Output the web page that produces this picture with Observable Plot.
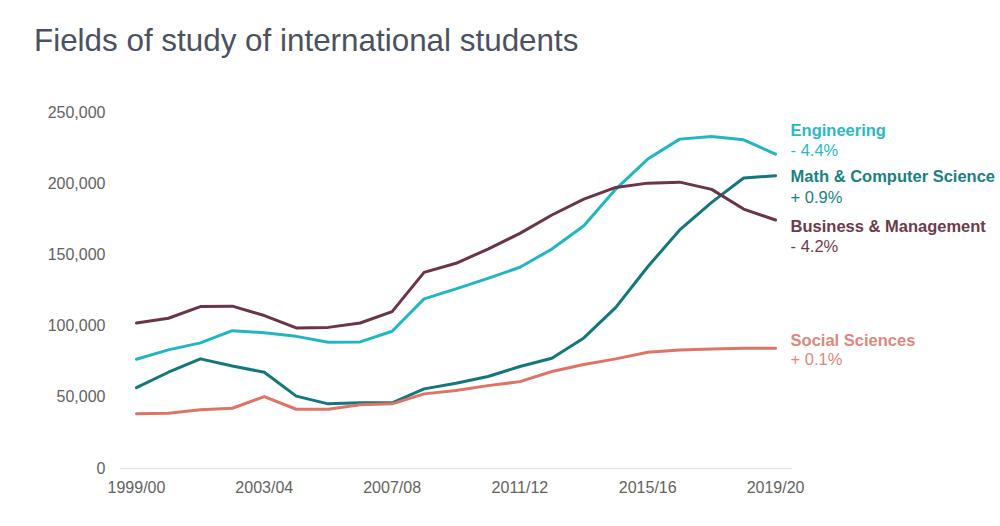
<!DOCTYPE html>
<html>
<head>
<meta charset="utf-8">
<script src="https://cdn.jsdelivr.net/npm/d3@7"></script>
<script src="https://cdn.jsdelivr.net/npm/@observablehq/plot@0.6"></script>
<style>
  html, body { margin: 0; padding: 0; background: #ffffff; }
  #title {
    height: 70px; box-sizing: border-box; padding: 25px 0 0 34px; margin: 0;
    font-family: "Liberation Sans", Arial, sans-serif; font-size: 31.4px; line-height: 31px;
    font-weight: normal; color: #4a5260;
  }
  #chart svg { display: block; }
</style>
</head>
<body>
<div id="title">Fields of study of international students</div>
<div id="chart"></div>
<script>
// ---- data ----
const years = [1999, 2000, 2001, 2002, 2003, 2004, 2005, 2006, 2007, 2008, 2009,
               2010, 2011, 2012, 2013, 2014, 2015, 2016, 2017, 2018, 2019];
const engineering = [76700, 83300, 88200, 96800, 95400, 92800, 88600, 88900, 96400, 119100, 126100,
                     133500, 141300, 154100, 170500, 196200, 217300, 231300, 233200, 230800, 220800];
const mathCS = [56800, 67600, 77000, 72000, 67600, 50800, 45400, 46100, 46100, 55900, 59900,
                64600, 71600, 77400, 91700, 113200, 141700, 167500, 186900, 204000, 205600];
const business = [102200, 105500, 113700, 114000, 107400, 98700, 99100, 102200, 110200, 137700, 144100,
                  154100, 165100, 178000, 189200, 197400, 200400, 201100, 196000, 182200, 174500];
const socialSci = [38400, 38800, 41200, 42300, 50500, 41600, 41600, 44700, 45400, 52400, 54700,
                   58200, 61000, 68100, 73000, 77000, 81600, 83300, 84000, 84400, 84400];
const seriesNames = ["Engineering", "Math & Computer Science", "Business & Management", "Social Sciences"];
const seriesValues = [engineering, mathCS, business, socialSci];
const changes = ["- 4.4%", "+ 0.9%", "- 4.2%", "+ 0.1%"];
const yTicks = [0, 50000, 100000, 150000, 200000, 250000];
const xTickYears = [1999, 2003, 2007, 2011, 2015, 2019];
const xTickLabels = ["1999/00", "2003/04", "2007/08", "2011/12", "2015/16", "2019/20"];

// ---- styles ----
const lineColors = ["#22b5c4", "#13777b", "#6a3547", "#df7466"];
const labelColors = ["#2bb8c3", "#1a8182", "#6e3a4c", "#e0877d"];
const nameDy = [-23.5, 1, 7, -7.5];
const pctDy = [-3.8, 22, 27, 11.5];

const rows = seriesNames.flatMap((s, k) =>
  years.map((yr, i) => ({series: s, year: yr, value: seriesValues[k][i]})));

const labelMarks = seriesNames.flatMap((s, k) => {
  const last = [{series: s, year: years[years.length - 1], value: seriesValues[k][years.length - 1], pct: changes[k]}];
  return [
    Plot.text(last, {x: "year", y: "value", text: "series", fill: labelColors[k], fontWeight: "bold",
      fontSize: 16.5, textAnchor: "start", dx: 15, dy: nameDy[k]}),
    Plot.text(last, {x: "year", y: "value", text: "pct", fill: labelColors[k],
      fontSize: 16.5, textAnchor: "start", dx: 15, dy: pctDy[k]})
  ];
});

const chart = Plot.plot({
  width: 1000,
  height: 456,
  marginLeft: 120,
  marginRight: 208,
  marginTop: 42,
  marginBottom: 58,
  style: {fontFamily: "'Liberation Sans', Arial, sans-serif", fontSize: "16px", color: "#626262", background: "#ffffff"},
  x: {domain: [1998.5, 2019.53], ticks: xTickYears, tickFormat: d => xTickLabels[xTickYears.indexOf(d)],
      tickSize: 0, tickPadding: 13, label: null},
  y: {domain: [0, 250000], ticks: yTicks, tickFormat: d3.format(","), tickSize: 0, tickPadding: 15, label: null},
  color: {domain: seriesNames, range: lineColors},
  marks: [
    Plot.ruleY([0], {stroke: "#e6e6e6", strokeWidth: 1.5}),
    Plot.lineY(rows, {x: "year", y: "value", z: "series", stroke: "series", strokeWidth: 3,
      strokeLinejoin: "round", strokeLinecap: "round"}),
    ...labelMarks
  ]
});
document.getElementById("chart").appendChild(chart);
</script>
</body>
</html>
